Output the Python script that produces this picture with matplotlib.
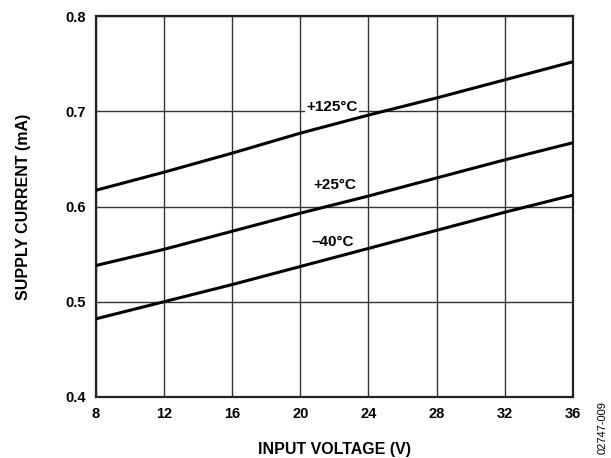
import matplotlib
matplotlib.use("Agg")
import matplotlib.pyplot as plt

voltage = [8, 12, 16, 20, 24, 28, 32, 36]
i_125 = [0.617, 0.636, 0.656, 0.677, 0.696, 0.714, 0.733, 0.752]
i_25 = [0.538, 0.555, 0.574, 0.593, 0.611, 0.630, 0.649, 0.667]
i_m40 = [0.482, 0.500, 0.518, 0.537, 0.556, 0.575, 0.594, 0.612]
series_labels = ["+125°C", "+25°C", "–40°C"]
label_pos = [(21.85, 0.704), (22.0, 0.6226), (21.9, 0.563)]
x_ticks = [8, 12, 16, 20, 24, 28, 32, 36]
y_ticks = [0.4, 0.5, 0.6, 0.7, 0.8]

plt.rcParams['font.family'] = ['Liberation Sans', 'DejaVu Sans']

fig = plt.figure(figsize=(6.11, 4.58), dpi=100)
ax = fig.add_axes([0.1566, 0.1332, 0.7812, 0.8318])

for ys in (i_125, i_25, i_m40):
    ax.plot(voltage, ys, color='black', lw=2.2, solid_capstyle='butt', zorder=3)

for lab, (x, y) in zip(series_labels, label_pos):
    ax.text(x, y, lab, ha='center', va='center', fontsize=11, fontweight='bold',
            bbox=dict(facecolor='white', edgecolor='none', pad=1.0), zorder=4)

ax.set_xlim(8, 36)
ax.set_ylim(0.4, 0.8)
ax.set_xticks(x_ticks)
ax.set_yticks(y_ticks)
ax.set_xticklabels([str(v) for v in x_ticks], fontsize=10.5, fontweight='bold')
ax.set_yticklabels([f"{v:.1f}" for v in y_ticks], fontsize=10.5, fontweight='bold')
ax.tick_params(length=0, pad=7)
ax.grid(True, color='#333333', lw=1.0)
ax.set_axisbelow(True)
for s in ax.spines.values():
    s.set_linewidth(1.6)
    s.set_color('#222222')

ax.set_xlabel("INPUT VOLTAGE (V)", fontsize=11.5, fontweight='bold')
ax.set_ylabel("SUPPLY CURRENT (mA)", fontsize=11.5, fontweight='bold')
ax.xaxis.label.set_va('center')
ax.yaxis.label.set_va('center')
ax.xaxis.set_label_coords(0.5, -0.139)
ax.yaxis.set_label_coords(-0.152, 0.5)

fig.text(0.987, 0.066, "02747-009", rotation=90, fontsize=8, ha='center', va='center')

fig.savefig("out.png", dpi=100)
